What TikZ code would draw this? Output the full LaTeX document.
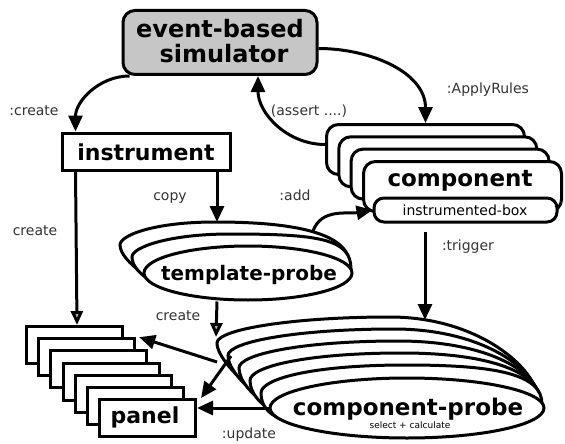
\documentclass[tikz,border=0pt]{standalone}
\usepackage{fontspec}
\setmainfont{DejaVu Sans}
\usetikzlibrary{arrows.meta,shapes.geometric}
\begin{document}
\begin{tikzpicture}[x=1pt,y=1pt,line width=3pt,
  arr/.style={-{Triangle[length=16pt,width=14pt]}},
  garr/.style={-{Triangle[length=14pt,width=12pt,fill=gray!55]}},
  lbl/.style={font=\fontsize{14}{16}\selectfont, text=black!80, inner sep=0pt, anchor=base},
  bigt/.style={font=\fontsize{#1}{#1}\selectfont\bfseries, inner sep=0pt, anchor=base},
  simbox/.style={draw, fill=gray!45, rounded corners=12pt, minimum width=194pt, minimum height=64pt, inner sep=0pt},
  ibox/.style={draw, fill=white, minimum width=168pt, minimum height=37pt, inner sep=0pt},
  crect/.style={draw, fill=white, rounded corners=12pt, minimum width=198pt, minimum height=50pt, anchor=north west, inner sep=0pt},
  prect/.style={draw, fill=white, minimum width=96pt, minimum height=37pt, anchor=north west, inner sep=0pt},
  fanshape/.style={draw, fill=white},
]
\useasboundingbox (0,0) rectangle (565,-444);

% simulator
\node[simbox] (sim) at (220,-42.5) {};
\node[bigt=24] (sim1) at (220,-38) {event-based};
\node[bigt=24] (sim2) at (224,-63) {simulator};

% instrument
\node[ibox] (instr) at (146,-151.5) {};
\node[bigt=22] (instrt) at (146,-160) {instrument};

% component stack
\node[crect] (c1) at (325,-123) {};
\node[crect] (c2) at (337.3,-135.3) {};
\node[crect] (c3) at (349.6,-147.6) {};
\node[crect] (c4) at (362,-160) {};
\node[bigt=23] (compt) at (460,-186) {component};
\node[draw, fill=white, rounded corners=10pt, minimum width=183pt, minimum height=24pt, inner sep=0pt] (ibx) at (465.5,-210) {};
\node[font=\fontsize{14}{16}\selectfont, inner sep=0pt, anchor=base] (ibxt) at (465,-215) {instrumented-box};

% template-probe stack
\draw[fanshape] (120,-245) .. controls +(0,10) and +(-60,0) .. (215,-222)
  .. controls +(90,0) and +(0,30) .. (350,-266)
  .. controls +(0,-12) and +(60,0) .. (200,-293)
  .. controls +(-35,0) and +(0,-18) .. cycle;
\draw[fanshape] (132,-257) .. controls +(0,10) and +(-60,0) .. (230,-234)
  .. controls +(90,0) and +(0,30) .. (351,-269)
  .. controls +(0,-12) and +(60,0) .. (200,-293)
  .. controls +(-35,0) and +(0,-18) .. cycle;
\node[draw, fill=white, ellipse, minimum width=208pt, minimum height=54pt, inner sep=0pt] (tp) at (248,-273) {};
\node[bigt=20] (tpt) at (249,-280) {template-probe};

% component-probe stack
\foreach \i in {0,...,4} {
  \pgfmathsetmacro\lx{217+11*\i}
  \pgfmathsetmacro\ly{-343-12.5*\i}
  \pgfmathsetmacro\tx{390+4*\i}
  \pgfmathsetmacro\ty{-317-12*\i}
  \pgfmathsetmacro\rx{538+\i}
  \pgfmathsetmacro\ry{-400-\i}
  \draw[fanshape] (\lx,\ly) .. controls +(0,14) and +(-95,0) .. (\tx,\ty)
    .. controls +(90,0) and +(0,30) .. (\rx,\ry)
    .. controls +(0,-20) and +(80,0) .. (330,-426)
    .. controls +(-40,0) and +(0,-25) .. cycle;
}
\node[draw, fill=white, ellipse, minimum width=274pt, minimum height=60pt, inner sep=0pt] (cp) at (407,-408) {};
\node[bigt=23] (cpt) at (408,-415) {component-probe};
\node[font=\fontsize{9}{10}\selectfont, inner sep=0pt, anchor=base] (cpsub) at (410,-428) {select + calculate};

% panel stack
\foreach \i in {0,...,6} {
  \node[prect] (p\i) at ({25+12.17*\i},{-325-12.17*\i}) {};
}
\node[bigt=22] (pt) at (145,-423) {panel};

% named free ends
\coordinate (tpadd) at (313,-231);
\coordinate (cptop) at (425,-320);
\coordinate (cpleft) at (216,-337);
\coordinate (cpA) at (217,-362);
\coordinate (cpB) at (231,-356);

% connectors
\draw[arr] ([xshift=8pt]sim.south west) to[out=180,in=90] ([xshift=15pt]instr.north west);
\draw[arr] ([yshift=-6pt]sim.east) to[out=0,in=90] (c1.north);
\draw[arr] ([yshift=5pt]c1.west) to[out=180,in=-90] ([xshift=38pt]sim.south);
\draw[arr] ([xshift=71pt]instr.south) -- ([xshift=71pt]instr.south |- 0,-222);
\draw[garr] ([xshift=15pt]instr.south west) -- ([xshift=52pt]p0.north west);
\draw[arr] (tpadd) to[out=70,in=190] (ibx.west);
\draw[arr] (ibx.south -| cptop) ++(0,-8) -- (cptop);
\draw[garr] ([xshift=-31pt]tp.south) -- (cpleft);
\draw[arr] (cpA) -- ([xshift=3pt]p1.north east);
\draw[arr] (cpB) -- ([xshift=4pt]p6.north east);
\draw[arr] (cp.west) -- (p6.east |- cp.west);

% labels
\node[lbl] (l1) at (34,-115) {:create};
\node[lbl] (l2) at (35,-235) {create};
\node[lbl] (l3) at (488,-93) {:ApplyRules};
\node[lbl] (l4) at (309,-115) {(assert ....)};
\node[lbl] (l5) at (170,-200) {copy};
\node[lbl] (l6) at (295,-200) {:add};
\node[lbl] (l7) at (468,-250) {:trigger};
\node[lbl] (l8) at (178,-320) {create};
\node[lbl] (l9) at (249,-438) {:update};
\end{tikzpicture}
\end{document}
